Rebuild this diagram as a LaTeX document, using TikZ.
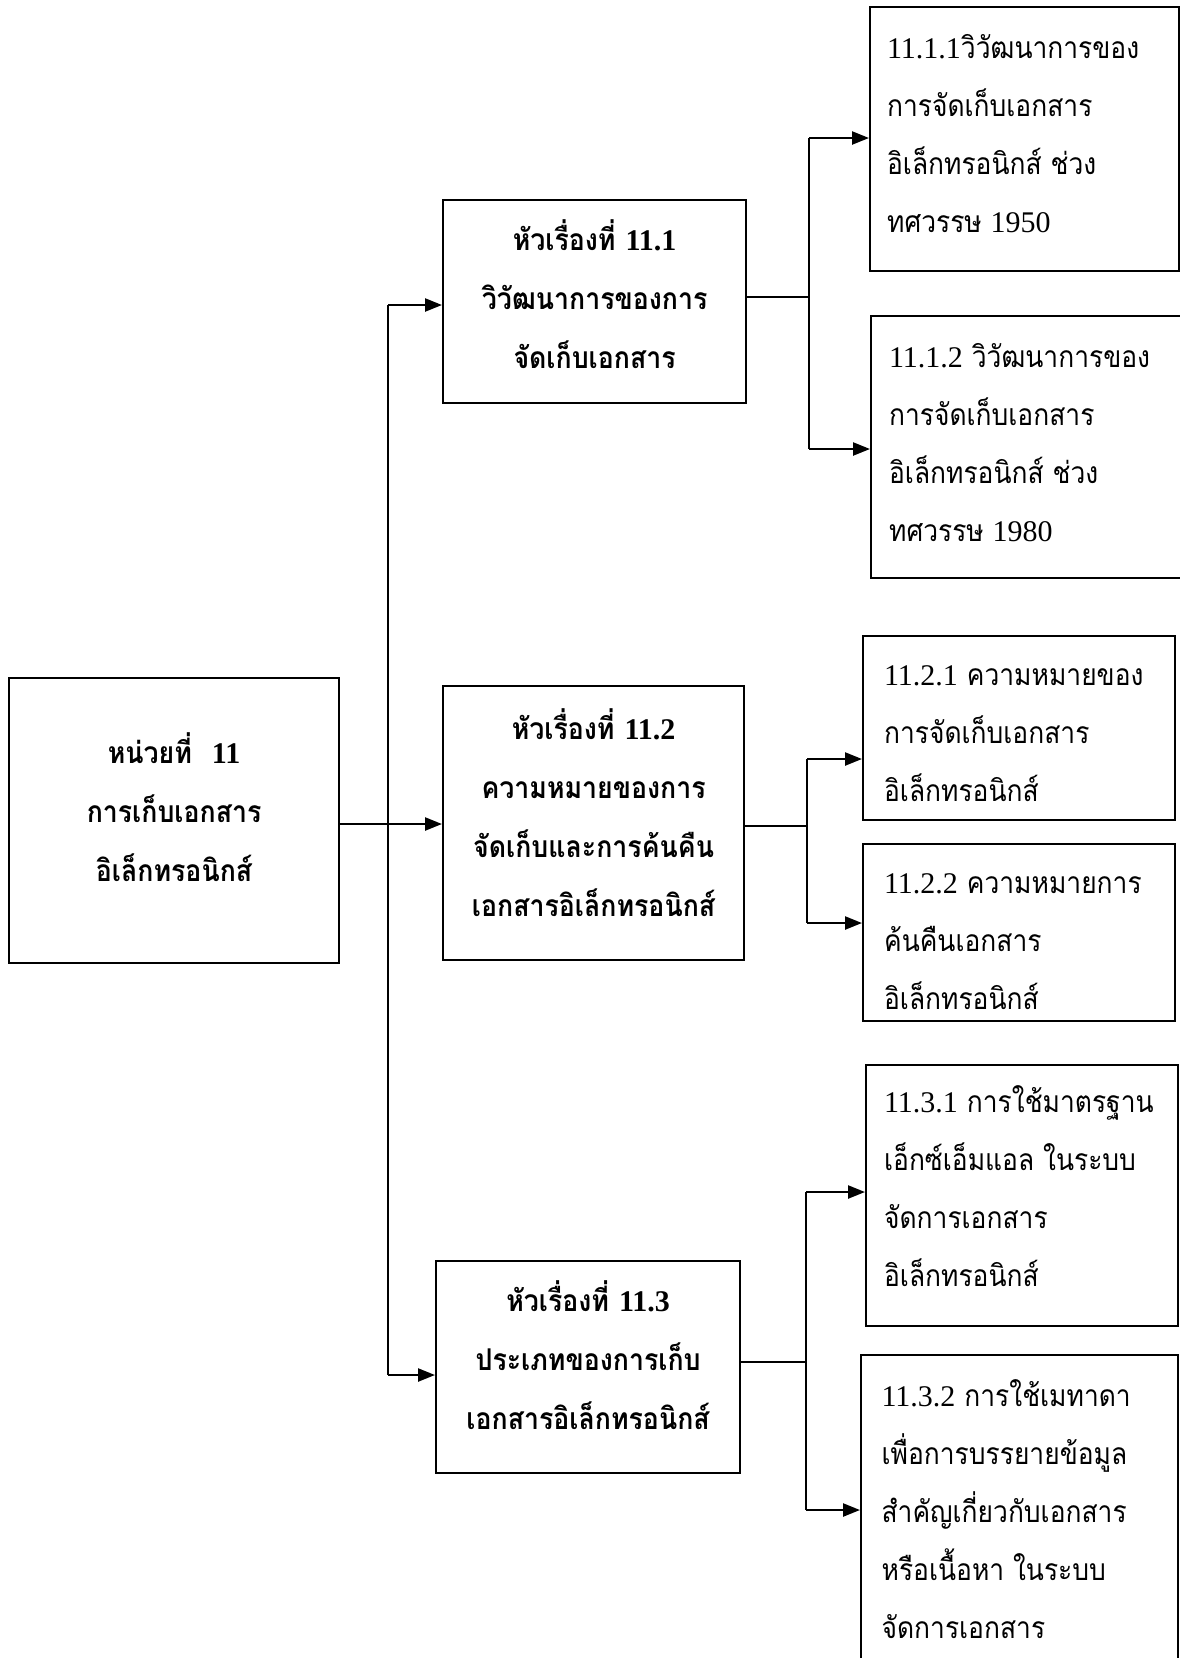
\documentclass[tikz,border=0pt]{standalone}
\usepackage{fontspec}
\usetikzlibrary{arrows.meta}
\setmainfont{Liberation Serif}
\newfontfamily\thai[Script=Thai,FakeStretch=0.88]{Loma}
\newfontfamily\thaibold[Script=Thai,FakeStretch=0.89]{Loma Bold}
\newcommand{\nm}[1]{{\rmfamily #1}}

\tikzset{
  ln/.style={line width=2.4pt},
  arr/.style={ln, -{Triangle[length=17pt,width=13pt]}},
  box/.style={draw, line width=2.2pt, inner sep=0pt, anchor=north west},
  headtext/.style={inner sep=0pt, align=center,
    font=\thaibold\fontsize{30}{59}\selectfont},
  subtext/.style={inner sep=0pt, align=flush left,
    font=\thai\fontsize{30}{58}\selectfont},
}

\begin{document}
\begin{tikzpicture}[x=1pt,y=-1pt]
\useasboundingbox (0,0) rectangle (1180,1658);
\clip (0,0) rectangle (1180,1658);

% unit
\node[box, minimum width=330pt, minimum height=285pt] (unit) at (8,677) {};
\node[headtext, text width=300pt] (unittxt) at ([yshift=13pt]unit.center)
  {หน่วยที่~~\nm{\bfseries 11}\\การเก็บเอกสาร\\อิเล็กทรอนิกส์};

% topics
\node[box, minimum width=303pt, minimum height=203pt] (t1) at (442,199) {};
\node[headtext, text width=290pt] (t1txt) at ([yshift=7pt]t1.center)
  {หัวเรื่องที่ \nm{\bfseries 11.1}\\วิวัฒนาการของการ\\จัดเก็บเอกสาร};
\node[box, minimum width=301pt, minimum height=274pt] (t2) at (442,685) {};
\node[headtext, text width=290pt] (t2txt) at ([yshift=10pt]t2.center)
  {หัวเรื่องที่ \nm{\bfseries 11.2}\\ความหมายของการ\\จัดเก็บและการค้นคืน\\เอกสารอิเล็กทรอนิกส์};
\node[box, minimum width=304pt, minimum height=212pt] (t3) at (435,1260) {};
\node[headtext, text width=290pt] (t3txt) at ([yshift=12pt]t3.center)
  {หัวเรื่องที่ \nm{\bfseries 11.3}\\ประเภทของการเก็บ\\เอกสารอิเล็กทรอนิกส์};

% subtopics
\node[box, minimum width=309pt, minimum height=264pt] (s111) at (869,6) {};
\node[subtext, text width=275pt] (s111txt) at ([yshift=5pt]s111.center)
  {\nm{11.1.1}วิวัฒนาการของ\\การจัดเก็บเอกสาร\\อิเล็กทรอนิกส์~ช่วง\\ทศวรรษ~\nm{1950}};
\node[box, minimum width=312pt, minimum height=262pt] (s112) at (870,315) {};
\node[subtext, text width=276pt] (s112txt) at ([yshift=5pt]s112.center)
  {\nm{11.1.2}~วิวัฒนาการของ\\การจัดเก็บเอกสาร\\อิเล็กทรอนิกส์~ช่วง\\ทศวรรษ~\nm{1980}};
\node[box, minimum width=312pt, minimum height=184pt] (s121) at (862,635) {};
\node[subtext, text width=270pt] (s121txt) at ([yshift=-6pt]s121.center)
  {\nm{11.2.1}~ความหมายของ\\การจัดเก็บเอกสาร\\อิเล็กทรอนิกส์};
\node[box, minimum width=312pt, minimum height=177pt] (s122) at (862,843) {};
\node[subtext, text width=270pt] (s122txt) at ([yshift=-9pt]s122.center)
  {\nm{11.2.2}~ความหมายการ\\ค้นคืนเอกสาร\\อิเล็กทรอนิกส์};
\node[box, minimum width=312pt, minimum height=261pt] (s131) at (865,1064) {};
\node[subtext, text width=276pt] (s131txt) at ([yshift=10pt]s131.center)
  {\nm{11.3.1}~การใช้มาตรฐาน\\เอ็กซ์เอ็มแอล~ในระบบ\\จัดการเอกสาร\\อิเล็กทรอนิกส์};
\node[box, minimum width=317pt, minimum height=312pt] (s132) at (860,1354) {};
\node[subtext, text width=276pt] (s132txt) at ([yshift=2pt]s132.center)
  {\nm{11.3.2}~การใช้เมทาดา\\เพื่อการบรรยายข้อมูล\\สำคัญเกี่ยวกับเอกสาร\\หรือเนื้อหา~ในระบบ\\จัดการเอกสาร};

% trunk from the unit to the topics
\coordinate (j1) at (388,305);
\coordinate (j2) at (388,824);
\coordinate (j3) at (388,1375);
\draw[ln] (j1) -- (j3);
\draw[arr] (j1) -- (j1 -| t1.west);
\draw[arr] (unit.east |- j2) -- (j2 -| t2.west);
\draw[arr] (j3) -- (j3 -| t3.west);

% branches to the subtopics
\coordinate (b1) at (809,297);
\coordinate (b1a) at (809,138);
\coordinate (b1b) at (809,449);
\draw[ln] (t1.east |- b1) -- (b1);
\draw[ln] (b1a) -- (b1b);
\draw[arr] (b1a) -- (b1a -| s111.west);
\draw[arr] (b1b) -- (b1b -| s112.west);

\coordinate (b2) at (807,826);
\coordinate (b2a) at (807,759);
\coordinate (b2b) at (807,923);
\draw[ln] (t2.east |- b2) -- (b2);
\draw[ln] (b2a) -- (b2b);
\draw[arr] (b2a) -- (b2a -| s121.west);
\draw[arr] (b2b) -- (b2b -| s122.west);

\coordinate (b3) at (806,1362);
\coordinate (b3a) at (806,1192);
\coordinate (b3b) at (806,1510);
\draw[ln] (t3.east |- b3) -- (b3);
\draw[ln] (b3a) -- (b3b);
\draw[arr] (b3a) -- (b3a -| s131.west);
\draw[arr] (b3b) -- (b3b -| s132.west);
\end{tikzpicture}
\end{document}
